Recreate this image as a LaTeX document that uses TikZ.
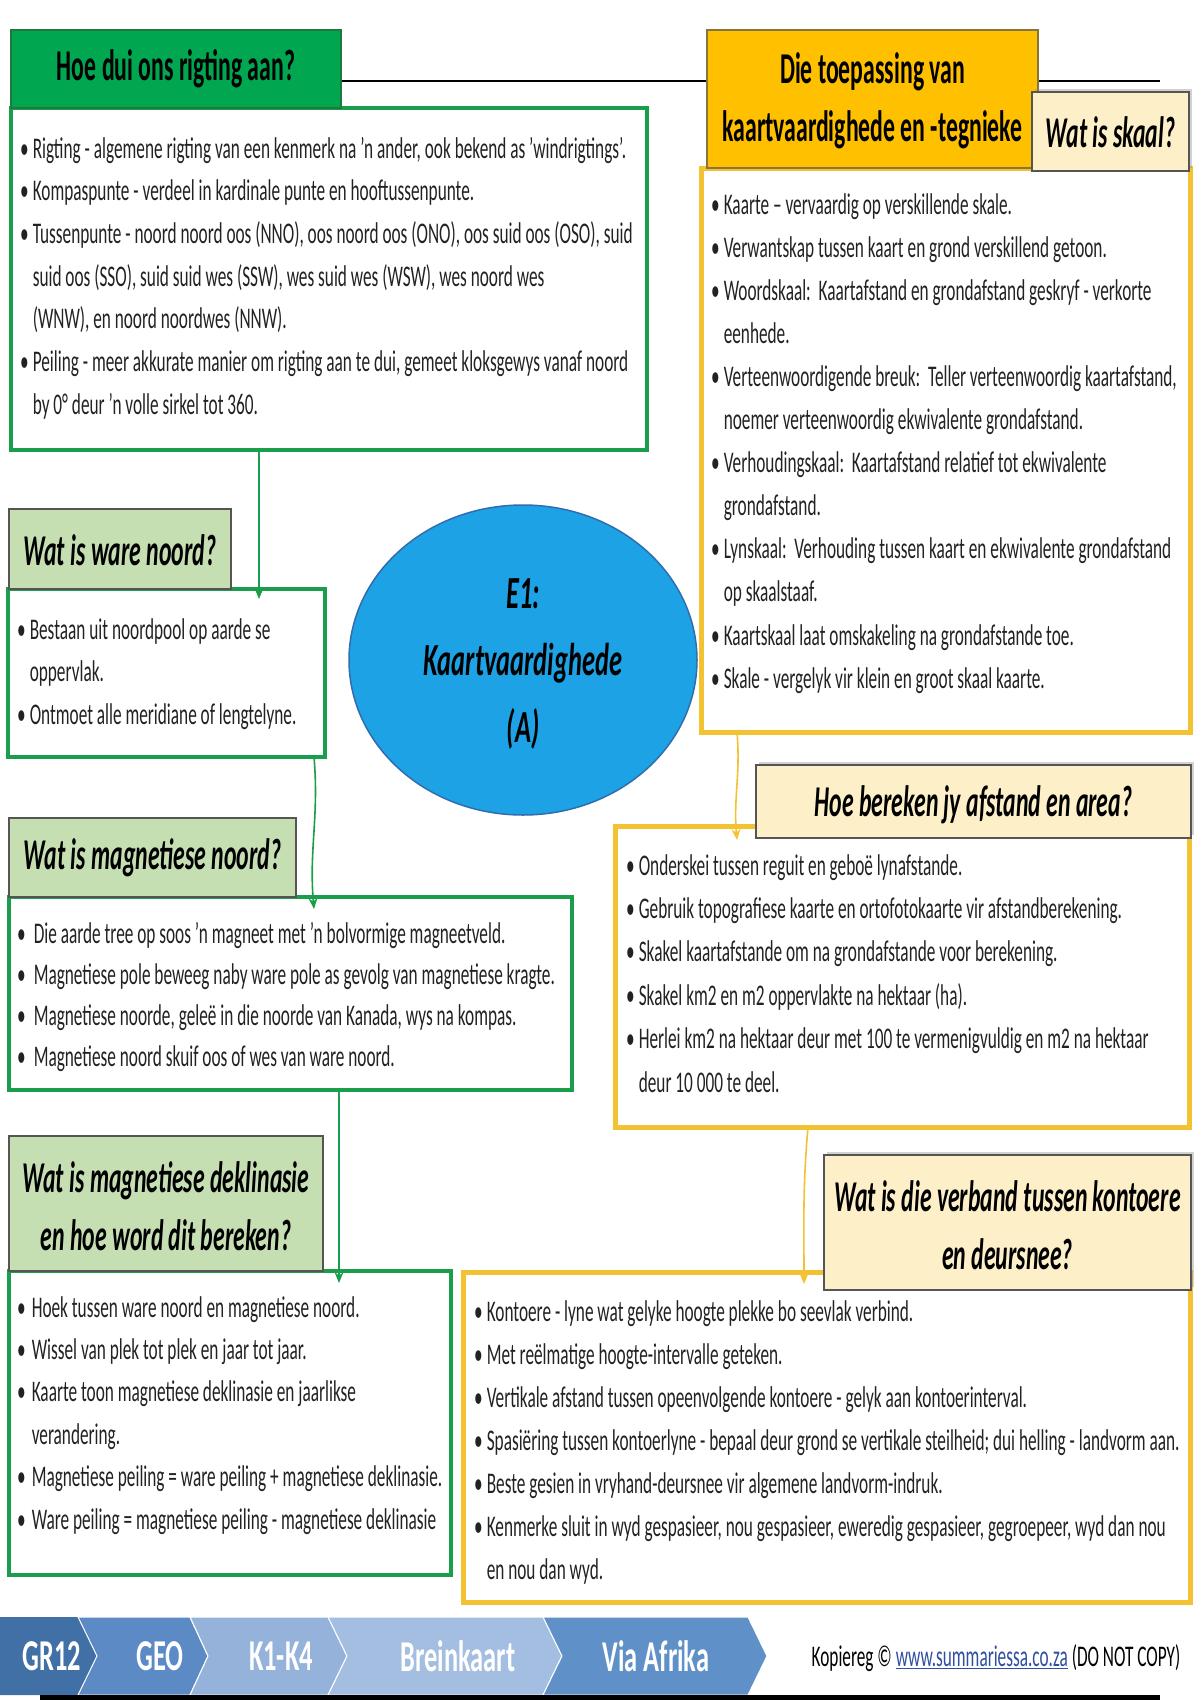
\documentclass[tikz,border=0pt]{standalone}
\usepackage{fontspec}
\setmainfont{Carlito}[FakeStretch=0.575]
\newfontfamily\hdfont{Carlito}[FakeStretch=0.54]
\newfontfamily\elfont{Carlito}[FakeStretch=0.575]
\newfontfamily\ftfont{Carlito}[FakeStretch=0.6]
\usetikzlibrary{arrows.meta,shapes.geometric,shadows}
\definecolor{gmain}{HTML}{00A650}
\definecolor{gdark}{HTML}{1E7A3C}
\definecolor{gbord}{HTML}{1B9E4B}
\definecolor{glight}{HTML}{C5DFB3}
\definecolor{gold}{HTML}{FFC000}
\definecolor{ybord}{HTML}{F3C232}
\definecolor{ylight}{HTML}{FDF0C8}
\definecolor{eblue}{HTML}{1EA2E6}
\definecolor{eedge}{HTML}{2F6DAE}
\definecolor{fA}{HTML}{4170A7}
\definecolor{fB}{HTML}{5B8AC5}
\definecolor{fC}{HTML}{95B3DA}
\definecolor{fD}{HTML}{A3BEE0}
\definecolor{fE}{HTML}{6090C8}
\definecolor{hdgray}{HTML}{555555}
\definecolor{linkblue}{HTML}{2F4FA0}
\definecolor{txt}{HTML}{222222}
\newcommand{\bodyf}[1]{\fontsize{30}{#1}\selectfont}
\newcommand{\hdf}{\hdfont\fontsize{44}{58}\selectfont}
\begin{document}
\begin{tikzpicture}[x=1pt,y=-1pt,
  gbox/.style={draw=gbord,line width=4pt,fill=white,inner sep=0pt,outer sep=0pt},
  ybox/.style={draw=ybord,line width=5pt,fill=white,inner sep=0pt,outer sep=0pt},
  ghead/.style={draw=hdgray,line width=1.5pt,fill=glight,inner sep=0pt,outer sep=0pt},
  yhead/.style={draw=hdgray,line width=1.5pt,fill=ylight,inner sep=0pt,outer sep=0pt,
     drop shadow={shadow xshift=3pt,shadow yshift=3pt,opacity=0.35}},
  btext/.style={anchor=base west,inner sep=0pt,text=txt},
  htext/.style={inner sep=0pt,font=\hdf\bfseries\itshape,align=center,text=black},
  garrow/.style={draw=gbord,line width=1.6pt,-{Stealth[length=11pt,width=9pt]}},
  yarrow/.style={draw=ybord,line width=1.6pt,-{Stealth[length=11pt,width=9pt]}},
  chev/.style={draw=white,line width=1pt},
  ftext/.style={text=white,font=\ftfont\fontsize{44}{46}\selectfont\bfseries,inner sep=0pt}
]
\useasboundingbox (0,0) rectangle (1200,1700);
\fill[white] (0,0) rectangle (1200,1700);

% top lines
\coordinate (l1a) at (341,81); \coordinate (l1b) at (707,81);
\coordinate (l2a) at (1038,81); \coordinate (l2b) at (1160,81);
\draw[line width=2.5pt] (l1a) -- (l1b);
\draw[line width=2.5pt] (l2a) -- (l2b);

% ===== green boxes =====
\node[gbox,minimum width=636pt,minimum height=342pt] (b1) at (329,279) {};
\node[gbox,minimum width=317pt,minimum height=168pt] (b2) at (166.5,673) {};
\node[gbox,minimum width=563pt,minimum height=193pt] (b3) at (290.5,993.5) {};
\node[gbox,minimum width=442pt,minimum height=304pt] (b4) at (230,1423) {};

% ===== yellow boxes =====
\node[ybox,minimum width=489pt,minimum height=564pt] (y1) at (945.5,450) {};
\node[ybox,minimum width=574pt,minimum height=301pt] (y2) at (902,976.5) {};
\node[ybox,minimum width=727pt,minimum height=330pt] (y3) at (826.5,1437) {};

% ===== headers =====
\node[draw=gdark,line width=1.5pt,fill=gmain,minimum width=330pt,minimum height=78pt,inner sep=0pt] (h1) at (176,69) {};
\node[inner sep=0pt,font=\hdf\bfseries,text=black] (h1t) at (176,69) {Hoe dui ons rigting aan?};

\node[draw=hdgray!70!gold,line width=1.5pt,fill=gold,minimum width=331pt,minimum height=138pt,inner sep=0pt] (h2) at (872.5,99) {};
\node[inner sep=0pt,font=\hdf\bfseries,align=center,text=black] (h2t) at (872.5,101) {Die toepassing van\\kaartvaardighede en -tegnieke};

\node[yhead,minimum width=157pt,minimum height=79pt] (h3) at (1110.5,131.5) {};
\node[htext] (h3t) at (1110.5,132) {Wat is skaal?};

\node[ghead,minimum width=222pt,minimum height=80pt] (h4) at (120,549) {};
\node[htext] (h4t) at (120,550) {Wat is ware noord?};

\node[ghead,minimum width=287pt,minimum height=79pt] (h5) at (152.5,857.5) {};
\node[htext] (h5t) at (152.5,858) {Wat is magnetiese noord?};

\node[ghead,minimum width=314pt,minimum height=135pt] (h6) at (166,1203.5) {};
\node[htext] (h6t) at (166,1206) {Wat is magnetiese deklinasie\\en hoe word dit bereken?};

\node[yhead,minimum width=435pt,minimum height=73pt] (h7) at (973.5,801.5) {};
\node[htext] (h7t) at (973.5,805) {Hoe bereken jy afstand en area?};

\node[yhead,minimum width=367pt,minimum height=135pt] (h8) at (1007.5,1222.5) {};
\node[htext] (h8t) at (1007.5,1225) {Wat is die verband tussen kontoere\\en deursnee?};

% ===== centre ellipse =====
\node[ellipse,draw=eedge,line width=1.5pt,fill=eblue,minimum width=348pt,minimum height=310pt,inner sep=0pt] (c) at (523,660) {};
\node[htext,font=\elfont\fontsize{46}{67}\selectfont\bfseries\itshape] (ct) at (523,664) {E1:\\Kaartvaardighede\\(A)};

% ===== body texts =====
\node[btext] (t1) at (20,158) {\bodyf{42.7}\begin{tabular}[t]{@{}l@{\hspace{4pt}}l@{}}
\textbullet & Rigting - algemene rigting van een kenmerk na 'n ander, ook bekend as 'windrigtings'.\\
\textbullet & Kompaspunte - verdeel in kardinale punte en hooftussenpunte.\\
\textbullet & Tussenpunte - noord noord oos (NNO), oos noord oos (ONO), oos suid oos (OSO), suid\\
 & suid oos (SSO), suid suid wes (SSW), wes suid wes (WSW), wes noord wes\\
 & (WNW), en noord noordwes (NNW).\\
\textbullet & Peiling - meer akkurate manier om rigting aan te dui, gemeet kloksgewys vanaf noord\\
 & by 0° deur 'n volle sirkel tot 360.
\end{tabular}};

\node[btext] (t2) at (711,214) {\bodyf{43.1}\begin{tabular}[t]{@{}l@{\hspace{4pt}}l@{}}
\textbullet & Kaarte – vervaardig op verskillende skale.\\
\textbullet & Verwantskap tussen kaart en grond verskillend getoon.\\
\textbullet & Woordskaal:\ \ Kaartafstand en grondafstand geskryf - verkorte\\
 & eenhede.\\
\textbullet & Verteenwoordigende breuk:\ \ Teller verteenwoordig kaartafstand,\\
 & noemer verteenwoordig ekwivalente grondafstand.\\
\textbullet & Verhoudingskaal:\ \ Kaartafstand relatief tot ekwivalente\\
 & grondafstand.\\
\textbullet & Lynskaal:\ \ Verhouding tussen kaart en ekwivalente grondafstand\\
 & op skaalstaaf.\\
\textbullet & Kaartskaal laat omskakeling na grondafstande toe.\\
\textbullet & Skale - vergelyk vir klein en groot skaal kaarte.
\end{tabular}};

\node[btext] (t3) at (17,639) {\bodyf{42.5}\begin{tabular}[t]{@{}l@{\hspace{4pt}}l@{}}
\textbullet & Bestaan uit noordpool op aarde se\\
 & oppervlak.\\
\textbullet & Ontmoet alle meridiane of lengtelyne.
\end{tabular}};

\node[btext] (t4) at (17,943) {\bodyf{41.3}\begin{tabular}[t]{@{}l@{\hspace{8pt}}l@{}}
\textbullet & Die aarde tree op soos 'n magneet met 'n bolvormige magneetveld.\\
\textbullet & Magnetiese pole beweeg naby ware pole as gevolg van magnetiese kragte.\\
\textbullet & Magnetiese noorde, geleë in die noorde van Kanada, wys na kompas.\\
\textbullet & Magnetiese noord skuif oos of wes van ware noord.
\end{tabular}};

\node[btext] (t5) at (17,1317) {\bodyf{42.4}\begin{tabular}[t]{@{}l@{\hspace{6pt}}l@{}}
\textbullet & Hoek tussen ware noord en magnetiese noord.\\
\textbullet & Wissel van plek tot plek en jaar tot jaar.\\
\textbullet & Kaarte toon magnetiese deklinasie en jaarlikse\\
 & verandering.\\
\textbullet & Magnetiese peiling = ware peiling + magnetiese deklinasie.\\
\textbullet & Ware peiling = magnetiese peiling - magnetiese deklinasie
\end{tabular}};

\node[btext] (t6) at (626,875) {\bodyf{43.4}\begin{tabular}[t]{@{}l@{\hspace{4pt}}l@{}}
\textbullet & Onderskei tussen reguit en geboë lynafstande.\\
\textbullet & Gebruik topografiese kaarte en ortofotokaarte vir afstandberekening.\\
\textbullet & Skakel kaartafstande om na grondafstande voor berekening.\\
\textbullet & Skakel km2 en m2 oppervlakte na hektaar (ha).\\
\textbullet & Herlei km2 na hektaar deur met 100 te vermenigvuldig en m2 na hektaar\\
 & deur 10 000 te deel.
\end{tabular}};

\node[btext] (t7) at (474,1321) {\bodyf{43}\begin{tabular}[t]{@{}l@{\hspace{4pt}}l@{}}
\textbullet & Kontoere - lyne wat gelyke hoogte plekke bo seevlak verbind.\\
\textbullet & Met reëlmatige hoogte-intervalle geteken.\\
\textbullet & Vertikale afstand tussen opeenvolgende kontoere - gelyk aan kontoerinterval.\\
\textbullet & Spasiëring tussen kontoerlyne - bepaal deur grond se vertikale steilheid; dui helling - landvorm aan.\\
\textbullet & Beste gesien in vryhand-deursnee vir algemene landvorm-indruk.\\
\textbullet & Kenmerke sluit in wyd gespasieer, nou gespasieer, eweredig gespasieer, gegroepeer, wyd dan nou\\
 & en nou dan wyd.
\end{tabular}};

% ===== connectors =====
\coordinate (a1) at (259,0);
\coordinate (a2) at (314,0);
\coordinate (a3) at (339,0);
\coordinate (a4) at (737,0);
\coordinate (a5) at (806,0);
\draw[garrow] (b1.south -| a1) -- ([yshift=-10pt]b2.north -| a1);
\draw[garrow] (b2.south -| a2) to[out=-85,in=95] ([yshift=-12pt]b3.north -| a2);
\draw[garrow] (b3.south -| a3) -- ([yshift=-12pt]b4.north -| a3);
\draw[yarrow] (y1.south -| a4) to[out=-85,in=95] ([yshift=-14pt]y2.north -| a4);
\draw[yarrow] ([xshift=2pt]y2.south -| a5) to[out=-95,in=90] ([xshift=-2pt,yshift=-12pt]y3.north -| a5);

% ===== footer =====
\fill[fA] (0,1617) -- (78,1617) -- (97,1656) -- (78,1695) -- (0,1695) -- cycle;
\draw[chev,fill=fB] (78,1617) -- (190,1617) -- (208,1656) -- (190,1695) -- (78,1695) -- (97,1656) -- cycle;
\draw[chev,fill=fC] (190,1617) -- (328,1617) -- (347,1656) -- (328,1695) -- (190,1695) -- (208,1656) -- cycle;
\draw[chev,fill=fD] (328,1617) -- (543,1617) -- (562,1656) -- (543,1695) -- (328,1695) -- (347,1656) -- cycle;
\draw[chev,fill=fE] (543,1617) -- (748,1617) -- (767,1656) -- (748,1695) -- (543,1695) -- (562,1656) -- cycle;
\node[ftext] (f1) at (52,1656) {GR12};
\node[ftext] (f2) at (160,1656) {GEO};
\node[ftext] (f3) at (281,1656) {K1-K4};
\node[ftext] (f4) at (458,1656) {Breinkaart};
\node[ftext] (f5) at (656,1656) {Via Afrika};
\node[inner sep=0pt,font=\bodyf{30},text=black] (cp) at (996,1658) {Kopiereg © \textcolor{linkblue}{\underline{www.summariessa.co.za}} (DO NOT COPY)};
\coordinate (bl1) at (40,1697); \coordinate (bl2) at (1160,1697);
\draw[line width=5pt] (bl1) -- (bl2);
\end{tikzpicture}
\end{document}
